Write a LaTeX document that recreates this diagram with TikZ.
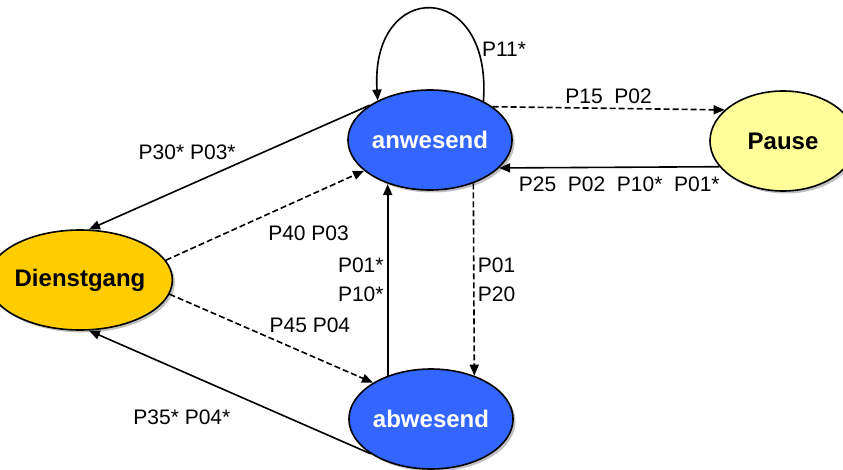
\documentclass[tikz,border=0pt]{standalone}
\usepackage{fontspec}
\setmainfont{Liberation Sans}
\usetikzlibrary{arrows.meta,shapes.geometric,shadows}
\definecolor{stateblue}{RGB}{51,102,255}
\definecolor{stategold}{RGB}{255,204,0}
\definecolor{stateyellow}{RGB}{255,255,153}

\begin{document}
\begin{tikzpicture}[x=1pt,y=-1pt,>={Triangle[length=11pt,width=9pt]},line width=1.6pt,
	state/.style={ellipse,draw,minimum width=146pt,minimum height=100pt,inner sep=0pt,
		font=\fontsize{24}{29}\selectfont\bfseries,
		drop shadow={shadow xshift=2.5pt,shadow yshift=-2.5pt,fill=black!35,opacity=0.7}},
	lbl/.style={font=\fontsize{21}{29}\selectfont},
	dashline/.style={dash pattern=on 6pt off 3pt}]
	\useasboundingbox (0,0) rectangle (843,470);

	\node[state,fill=stateblue,text=white] (anwesend) at (430,140) {anwesend};
	\node[state,fill=stateyellow] (Pause) at (783,141) {Pause};
	\node[state,fill=stategold] (Dienstgang) at (80,280) {Dienstgang};
	\node[state,fill=stateblue,text=white] (abwesend) at (431,419) {abwesend};

	\draw[->] (anwesend.36) .. controls +(9,-123) and +(-8,-122) .. node[lbl,pos=0.17,right] (p11) {P11*} (anwesend.143);

	\path[->,every node/.style={lbl}]
		(anwesend.28) edge[dashline] node[above] (p15) {P15\ \ P02} (Pause.152)
		(Pause.202) edge node[below,xshift=10pt,yshift=-5pt] (p25) {P25\ \ P02\ \ P10*\ \ P01*} (anwesend.338)
		(anwesend.150) edge node[pos=0.65,above=22pt] (p30) {P30* P03*} (Dienstgang.80)
		(Dienstgang.13) edge[dashline] node[pos=0.72,below=26pt] (p40) {P40 P03} (anwesend.205)
		(Dienstgang.351) edge[dashline] node[pos=0.69,above=18pt] (p45) {P45 P04} (abwesend.148)
		(abwesend.210) edge node[pos=0.67,below=34pt] (p35) {P35* P04*} (Dienstgang.280)
		(anwesend.315) edge[dashline] node[right,align=left] (p01) {P01\\P20} (abwesend.45);
	\draw[->] (abwesend.135) -- node[lbl,left,align=right] (p10) {P01*\\P10*} (abwesend.135 |- anwesend.227);
\end{tikzpicture}
\end{document}
